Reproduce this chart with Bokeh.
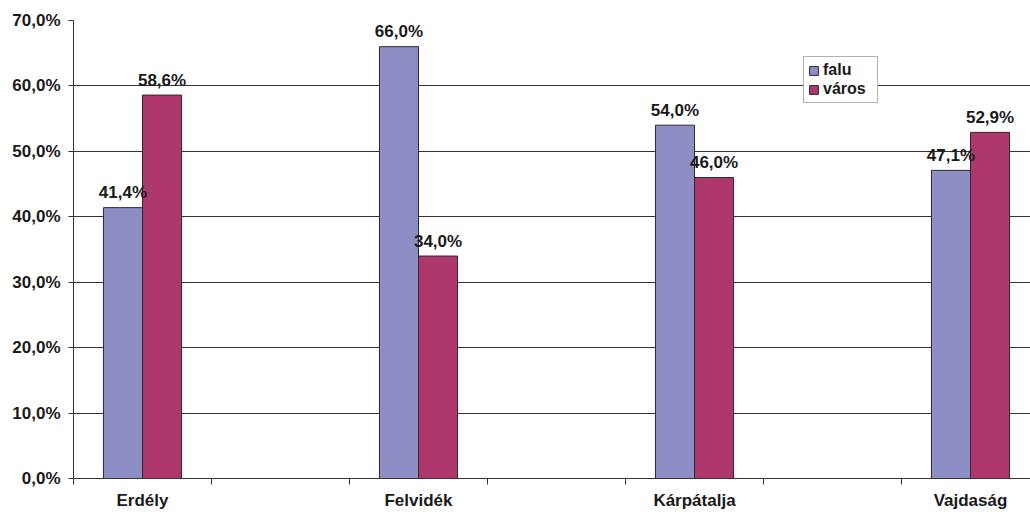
from bokeh.plotting import figure
from bokeh.models import Range1d, FixedTicker, ColumnDataSource, Legend
from bokeh.core.properties import value
from bokeh.embed import file_html
from bokeh.resources import INLINE

categories = ["Erdély", "Felvidék", "Kárpátalja", "Vajdaság"]
falu = [41.4, 66.0, 54.0, 47.1]
varos = [58.6, 34.0, 46.0, 52.9]
series_names = ["falu", "város"]
y_ticks = [0, 10, 20, 30, 40, 50, 60, 70]

FALU_COLOR = "#8E8EC6"
VAROS_COLOR = "#AE386D"
FONT = "Liberation Sans"

def pct(v):
    return f"{v:.1f}".replace(".", ",") + "%"

centers = [2 * i + 0.5 for i in range(len(categories))]
bw = 0.283
x_falu = [c - bw / 2 for c in centers]
x_varos = [c + bw / 2 for c in centers]

W, H = 1030, 512
LEFT, TOP, BOTTOM = 73, 20, 33
frame_w = W - LEFT
frame_h = H - TOP - BOTTOM
unit_px = 138.0

p = figure(width=W, height=H, output_backend="svg", toolbar_location=None,
           x_range=Range1d(0, frame_w / unit_px), y_range=Range1d(0, 70),
           min_border_left=LEFT, min_border_right=0, min_border_top=TOP,
           min_border_bottom=BOTTOM)
p.outline_line_color = None
p.background_fill_color = "white"
p.border_fill_color = "white"

src_f = ColumnDataSource(dict(x=x_falu, top=falu, lab=[pct(v) for v in falu]))
src_v = ColumnDataSource(dict(x=x_varos, top=varos, lab=[pct(v) for v in varos]))

rf = p.vbar(x="x", top="top", width=bw, source=src_f, fill_color=FALU_COLOR,
            line_color="#2a2a2a", line_width=1)
rv = p.vbar(x="x", top="top", width=bw, source=src_v, fill_color=VAROS_COLOR,
            line_color="#2a2a2a", line_width=1)

for src in (src_f, src_v):
    p.text(x="x", y="top", text="lab", source=src, text_align="center",
           text_baseline="alphabetic", y_offset=-15,
           text_font=value(FONT), text_font_style="bold",
           text_font_size="17px", text_color="#1a1a1a")

# grid
p.xgrid.grid_line_color = None
p.ygrid.ticker = FixedTicker(ticks=y_ticks)
p.ygrid.grid_line_color = "#333333"
p.ygrid.grid_line_width = 1

# y axis
p.yaxis.ticker = FixedTicker(ticks=y_ticks)
p.yaxis.major_label_overrides = {t: pct(t) for t in y_ticks}
p.yaxis.major_tick_in = 0
p.yaxis.major_tick_out = 5
p.yaxis.minor_tick_line_color = None
p.yaxis.axis_line_color = "#333333"
p.yaxis.major_tick_line_color = "#333333"
p.yaxis.major_label_standoff = 8
p.yaxis.major_label_text_font = FONT
p.yaxis.major_label_text_font_style = "bold"
p.yaxis.major_label_text_font_size = "17px"
p.yaxis.major_label_text_color = "#1a1a1a"

# x axis
p.xaxis.ticker = FixedTicker(ticks=centers, minor_ticks=list(range(0, 8)))
p.xaxis.major_label_overrides = {c: n for c, n in zip(centers, categories)}
p.xaxis.major_tick_in = 0
p.xaxis.major_tick_out = 0
p.xaxis.minor_tick_in = 0
p.xaxis.minor_tick_out = 6
p.xaxis.minor_tick_line_color = "#333333"
p.xaxis.axis_line_color = "#333333"
p.xaxis.major_label_standoff = 6
p.xaxis.major_label_text_font = FONT
p.xaxis.major_label_text_font_style = "bold"
p.xaxis.major_label_text_font_size = "17px"
p.xaxis.major_label_text_color = "#1a1a1a"

legend = Legend(items=[(series_names[0], [rf]), (series_names[1], [rv])],
                location=(730, frame_h - 37 - 47))
legend.label_text_font = FONT
legend.label_text_font_style = "bold"
legend.label_text_font_size = "16px"
legend.label_text_color = "#1a1a1a"
legend.glyph_width = 11
legend.glyph_height = 11
legend.label_standoff = 4
legend.padding = 4
legend.spacing = 1
legend.margin = 0
legend.label_width = 50
legend.border_line_color = "#666666"
legend.border_line_width = 1
legend.background_fill_color = "white"
legend.background_fill_alpha = 1
legend.label_height = 17
p.add_layout(legend, "center")

open("out.html", "w").write(file_html(p, INLINE))
